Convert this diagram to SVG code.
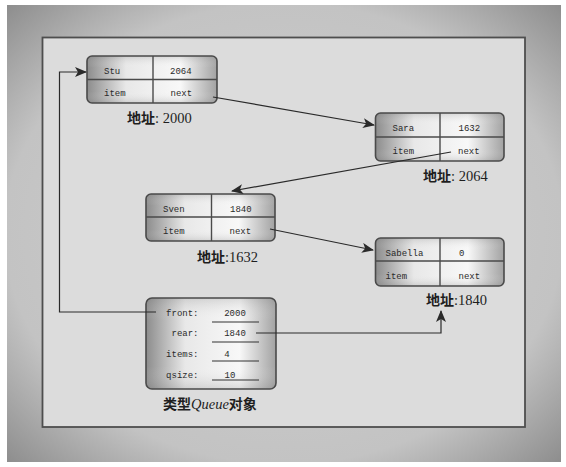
<svg xmlns="http://www.w3.org/2000/svg" width="566" height="467" viewBox="0 0 566 467">
<defs>
<radialGradient id="bg" cx="50%" cy="50%" r="72%">
<stop offset="0" stop-color="#d0d0d0"/>
<stop offset="0.7" stop-color="#c3c3c3"/>
<stop offset="1" stop-color="#8a8a8a"/>
</radialGradient>
<linearGradient id="hg" x1="0" y1="0" x2="1" y2="0">
<stop offset="0" stop-color="#8c8c8c"/>
<stop offset="0.3" stop-color="#e8e8e8"/>
<stop offset="0.72" stop-color="#f8f8f8"/>
<stop offset="1" stop-color="#a2a2a2"/>
</linearGradient>
<linearGradient id="vg" x1="0" y1="0" x2="0" y2="1">
<stop offset="0" stop-color="#707070" stop-opacity="0.22"/>
<stop offset="0.25" stop-color="#ffffff" stop-opacity="0"/>
<stop offset="0.75" stop-color="#ffffff" stop-opacity="0"/>
<stop offset="1" stop-color="#707070" stop-opacity="0.22"/>
</linearGradient>
<marker id="ah" viewBox="0 0 12 10" refX="11" refY="5" markerWidth="12" markerHeight="10" markerUnits="userSpaceOnUse" orient="auto">
<path d="M0,0 L12,5 L0,10 L3,5 Z" fill="#2a2a2a"/>
</marker>
</defs>
<style>
.box{stroke:#4a4a4a;stroke-width:1.6;fill:none}
.div{stroke:#4a4a4a;stroke-width:1.4}
.mono{font-family:"Liberation Mono","DejaVu Sans Mono",monospace;font-size:9px;fill:#2a2a2a}
.lbl{font-family:"Liberation Serif","Noto Sans CJK SC",serif;font-size:14.5px;fill:#1e1e1e}
.cjk{font-family:"Noto Sans CJK SC",sans-serif;font-weight:bold;font-size:14px}
.conn{stroke:#2a2a2a;stroke-width:1.2;fill:none}
.ul{stroke:#333;stroke-width:1.2}
</style>
<rect x="0" y="0" width="566" height="467" fill="#ffffff"/>
<rect x="7" y="5" width="554" height="457" fill="url(#bg)"/>
<rect x="42.5" y="37.5" width="482.5" height="389.5" fill="#dcdcdc" stroke="#4e4e4e" stroke-width="1.8"/>

<g id="node-stu">
<rect x="87" y="56" width="130" height="47" rx="5" fill="url(#hg)"/>
<rect x="87" y="56" width="130" height="47" rx="5" fill="url(#vg)"/>
<rect x="87" y="56" width="130" height="47" rx="5" class="box"/>
<line x1="153" y1="56" x2="153" y2="103" class="div"/>
<line x1="87" y1="79.5" x2="217" y2="79.5" class="div"/>
<text x="104" y="74" class="mono">Stu</text>
<text x="170" y="74" class="mono">2064</text>
<text x="104" y="96" class="mono">item</text>
<text x="170.5" y="96" class="mono">next</text>
<text x="127" y="123" class="lbl"><tspan class="cjk">地址</tspan>: 2000</text>
</g>

<g id="node-sara">
<rect x="375.5" y="113" width="128.5" height="48" rx="5" fill="url(#hg)"/>
<rect x="375.5" y="113" width="128.5" height="48" rx="5" fill="url(#vg)"/>
<rect x="375.5" y="113" width="128.5" height="48" rx="5" class="box"/>
<line x1="440" y1="113" x2="440" y2="161" class="div"/>
<line x1="375.5" y1="137" x2="504" y2="137" class="div"/>
<text x="392.5" y="130.5" class="mono">Sara</text>
<text x="458.5" y="130.5" class="mono">1632</text>
<text x="392.5" y="153.5" class="mono">item</text>
<text x="458" y="153.5" class="mono">next</text>
<text x="423" y="181" class="lbl"><tspan class="cjk">地址</tspan>: 2064</text>
</g>

<g id="node-sven">
<rect x="146" y="194" width="129" height="47" rx="5" fill="url(#hg)"/>
<rect x="146" y="194" width="129" height="47" rx="5" fill="url(#vg)"/>
<rect x="146" y="194" width="129" height="47" rx="5" class="box"/>
<line x1="211.5" y1="194" x2="211.5" y2="241" class="div"/>
<line x1="146" y1="217" x2="275" y2="217" class="div"/>
<text x="163" y="211.5" class="mono">Sven</text>
<text x="230" y="211.5" class="mono">1840</text>
<text x="163" y="233.5" class="mono">item</text>
<text x="229.5" y="233.5" class="mono">next</text>
<text x="197" y="262" class="lbl"><tspan class="cjk">地址</tspan>:1632</text>
</g>

<g id="node-sabella">
<rect x="375.5" y="238" width="128.5" height="48" rx="5" fill="url(#hg)"/>
<rect x="375.5" y="238" width="128.5" height="48" rx="5" fill="url(#vg)"/>
<rect x="375.5" y="238" width="128.5" height="48" rx="5" class="box"/>
<line x1="440" y1="238" x2="440" y2="286" class="div"/>
<line x1="375.5" y1="261" x2="504" y2="261" class="div"/>
<text x="385.5" y="255.5" class="mono">Sabella</text>
<text x="459" y="255.5" class="mono">0</text>
<text x="385.5" y="278.5" class="mono">item</text>
<text x="458.5" y="278.5" class="mono">next</text>
<text x="426" y="305" class="lbl"><tspan class="cjk">地址</tspan>:1840</text>
</g>

<g id="node-queue">
<rect x="146" y="298" width="130" height="91" rx="6" fill="url(#hg)"/>
<rect x="146" y="298" width="130" height="91" rx="6" fill="url(#vg)"/>
<rect x="146" y="298" width="130" height="91" rx="6" class="box"/>
<text x="198.5" y="316" class="mono" text-anchor="end">front:</text>
<text x="198.5" y="336" class="mono" text-anchor="end">rear:</text>
<text x="198.5" y="357" class="mono" text-anchor="end">items:</text>
<text x="198.5" y="378" class="mono" text-anchor="end">qsize:</text>
<text x="235" y="316" class="mono" text-anchor="middle">2000</text>
<text x="235" y="336" class="mono" text-anchor="middle">1840</text>
<text x="227" y="357" class="mono" text-anchor="middle">4</text>
<text x="230" y="378" class="mono" text-anchor="middle">10</text>
<line x1="212" y1="322" x2="259" y2="322" class="ul"/>
<line x1="212" y1="342" x2="259" y2="342" class="ul"/>
<line x1="212" y1="361" x2="259" y2="361" class="ul"/>
<line x1="212" y1="380" x2="259" y2="380" class="ul"/>
<text x="163" y="409" class="lbl"><tspan class="cjk">类型</tspan><tspan font-style="italic">Queue</tspan><tspan class="cjk">对象</tspan></text>
</g>

<g id="connectors">
<line x1="213" y1="97" x2="374" y2="125" class="conn" marker-end="url(#ah)"/>
<line x1="451" y1="152" x2="232" y2="191" class="conn" marker-end="url(#ah)"/>
<line x1="270" y1="229" x2="373" y2="250" class="conn" marker-end="url(#ah)"/>
<polyline points="156,312 59.5,312 59.5,72 86,72" class="conn" marker-end="url(#ah)"/>
<polyline points="256,333 441,333 441,311" class="conn" marker-end="url(#ah)"/>
</g>
</svg>
